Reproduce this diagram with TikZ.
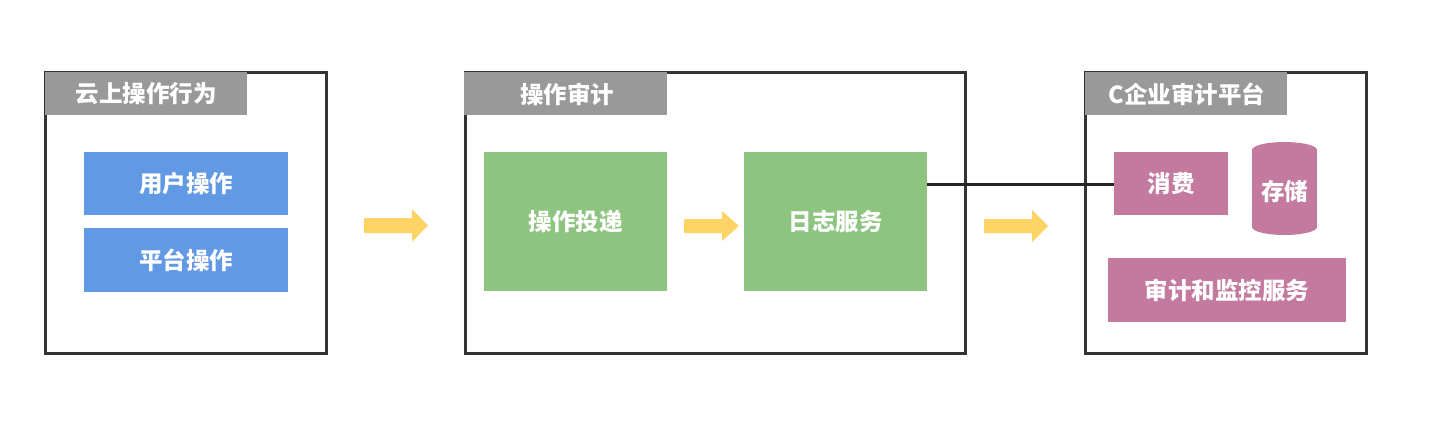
\documentclass[tikz,border=0pt]{standalone}
\usepackage{fontspec}
\newfontfamily\cjk{Noto Sans CJK SC}
\usetikzlibrary{positioning}
\definecolor{framec}{HTML}{333333}
\definecolor{headc}{HTML}{999999}
\definecolor{bluec}{HTML}{6199E4}
\definecolor{greenc}{HTML}{8DC47F}
\definecolor{pinkc}{HTML}{C47A9F}
\definecolor{arrc}{HTML}{FFD466}
\begin{document}
\begin{tikzpicture}[x=1pt,y=-1pt,
  frame/.style={draw=framec,line width=3pt},
  head/.style={inner sep=0pt,text=white,font=\cjk\bfseries\fontsize{23.5}{26}\selectfont},
  boxtxt/.style={inner sep=0pt,text=white,font=\cjk\bfseries\fontsize{23.5}{26}\selectfont},
  arr/.style={fill=arrc},
  link/.style={draw=black!85,line width=3pt}]
\useasboundingbox (0,0) rectangle (1436,436);
% frames
\draw[frame] (45,73) rectangle (326,353);
\draw[frame] (465,73) rectangle (965,353);
\draw[frame] (1085,73) rectangle (1366,353);
% headers
\fill[headc] (45,72) rectangle (247,115);
\node[head] (h1) at (146,94) {云上操作行为};
\fill[headc] (464,72) rectangle (667,115);
\node[head] (h2) at (567,94) {操作审计};
\fill[headc] (1085,72) rectangle (1287,115);
\node[head] (h3) at (1187,94) {C企业审计平台};
% left boxes
\fill[bluec] (84,152) rectangle (288,215);
\node[boxtxt] (user) at (186,183.5) {用户操作};
\fill[bluec] (84,228) rectangle (288,292);
\node[boxtxt] (plat) at (186,260) {平台操作};
% middle boxes
\fill[greenc] (484,152) rectangle (667,291);
\node[boxtxt] (deliver) at (575.5,221.5) {操作投递};
\fill[greenc] (744,152) rectangle (927,291);
\node[boxtxt] (logsvc) at (835.5,221.5) {日志服务};
% right boxes
\fill[pinkc] (1114,152) rectangle (1228,215);
\node[boxtxt] (consume) at (1171,183.5) {消费};
\fill[pinkc] (1252,150) rectangle (1317,227);
\fill[pinkc] (1284.5,150) ellipse [x radius=32.5pt, y radius=8pt];
\fill[pinkc] (1284.5,227) ellipse [x radius=32.5pt, y radius=8pt];
\node[boxtxt] (store) at (1284.5,192) {存储};
\fill[pinkc] (1108,258) rectangle (1346,322);
\node[boxtxt] (audit) at (1227,290) {审计和监控服务};
% connector
\coordinate (la) at (927,184);
\coordinate (lb) at (1114,184);
\draw[link] (la) -- (lb);
% yellow arrows
\fill[arr] (364,218) -- (412,218) -- (412,209) -- (428,225.5) -- (412,242) -- (412,233) -- (364,233) -- cycle;
\fill[arr] (684,219) -- (722,219) -- (722,211) -- (739,226) -- (722,241) -- (722,233) -- (684,233) -- cycle;
\fill[arr] (984,219) -- (1032,219) -- (1032,210) -- (1048,226) -- (1032,242) -- (1032,233) -- (984,233) -- cycle;
\end{tikzpicture}
\end{document}
